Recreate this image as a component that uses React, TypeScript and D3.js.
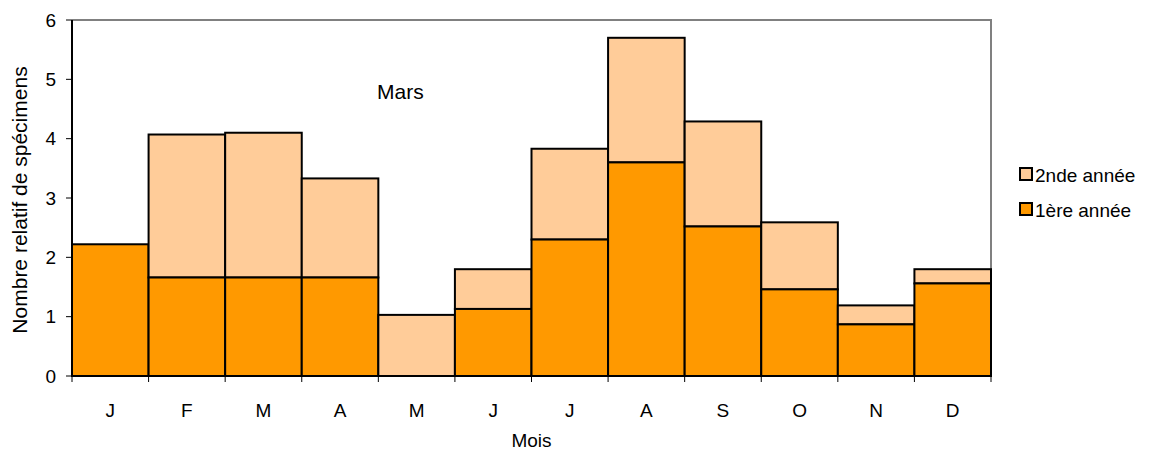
import React, { useRef, useEffect } from 'react';
import * as d3 from 'd3';

const months = ['J', 'F', 'M', 'A', 'M', 'J', 'J', 'A', 'S', 'O', 'N', 'D'];
const firstYear = [2.22, 1.66, 1.66, 1.66, 0, 1.13, 2.3, 3.6, 2.52, 1.46, 0.87, 1.56];
const secondYear = [0, 2.41, 2.44, 1.67, 1.03, 0.67, 1.53, 2.1, 1.77, 1.13, 0.32, 0.24];
const yTicks = [0, 1, 2, 3, 4, 5, 6];

const width = 1155;
const height = 455;
const margin = { top: 20, right: 164, bottom: 79, left: 72 };

const App: React.FC = () => {
  const svgRef = useRef<SVGSVGElement>(null);

  useEffect(() => {
    if (!svgRef.current) return;
    const root = d3.select(svgRef.current);
    root.selectAll('*').remove();

    const font = 'Arial, "Liberation Sans", sans-serif';
    const innerW = width - margin.left - margin.right;
    const innerH = height - margin.top - margin.bottom;

    const x = d3.scaleBand<number>()
      .domain(d3.range(months.length))
      .range([0, innerW])
      .padding(0);
    const y = d3.scaleLinear().domain([0, 6]).range([innerH, 0]);

    const g = root.append('g').attr('transform', `translate(${margin.left},${margin.top})`);

    // plot frame (top/right grey)
    g.append('path')
      .attr('d', `M0,0H${innerW}V${innerH}`)
      .attr('fill', 'none')
      .attr('stroke', '#808080')
      .attr('stroke-width', 2);

    // stacked bars
    months.forEach((_, i) => {
      const x0 = x(i)!;
      const w = x.bandwidth();
      const a = firstYear[i];
      const b = secondYear[i];
      if (b > 0) {
        g.append('rect')
          .attr('x', x0).attr('y', y(a + b))
          .attr('width', w).attr('height', y(a) - y(a + b))
          .attr('fill', '#FFCC99').attr('stroke', '#000').attr('stroke-width', 2);
      }
      if (a > 0) {
        g.append('rect')
          .attr('x', x0).attr('y', y(a))
          .attr('width', w).attr('height', y(0) - y(a))
          .attr('fill', '#FF9900').attr('stroke', '#000').attr('stroke-width', 2);
      }
    });

    // y axis
    g.append('line').attr('x1', 0).attr('x2', 0).attr('y1', 0).attr('y2', innerH)
      .attr('stroke', '#000').attr('stroke-width', 2);
    yTicks.forEach(t => {
      g.append('line').attr('x1', -6).attr('x2', 0).attr('y1', y(t)).attr('y2', y(t))
        .attr('stroke', '#000').attr('stroke-width', 1);
      g.append('text').attr('x', -16).attr('y', y(t)).attr('dy', '0.35em')
        .attr('text-anchor', 'end').attr('font-family', font).attr('font-size', 19)
        .text(String(t));
    });

    // x axis
    g.append('line').attr('x1', 0).attr('x2', innerW).attr('y1', innerH).attr('y2', innerH)
      .attr('stroke', '#000').attr('stroke-width', 2);
    d3.range(months.length + 1).forEach(i => {
      const xx = i < months.length ? x(i)! : innerW;
      g.append('line').attr('x1', xx).attr('x2', xx).attr('y1', innerH).attr('y2', innerH + 6)
        .attr('stroke', '#000').attr('stroke-width', 1);
    });
    months.forEach((m, i) => {
      g.append('text').attr('x', x(i)! + x.bandwidth() / 2).attr('y', innerH + 41)
        .attr('text-anchor', 'middle').attr('font-family', font).attr('font-size', 19)
        .text(m);
    });

    // axis titles
    root.append('text').attr('x', margin.left + innerW / 2).attr('y', 447)
      .attr('text-anchor', 'middle').attr('font-family', font).attr('font-size', 19)
      .text('Mois');
    root.append('text')
      .attr('transform', `translate(27,${margin.top + innerH / 2 + 2}) rotate(-90)`)
      .attr('text-anchor', 'middle').attr('font-family', font).attr('font-size', 21)
      .text('Nombre relatif de spécimens');

    // annotation
    g.append('text').attr('x', 305).attr('y', 79)
      .attr('font-family', font).attr('font-size', 21).text('Mars');

    // legend
    const legend = [
      { label: '2nde année', color: '#FFCC99' },
      { label: '1ère année', color: '#FF9900' },
    ];
    legend.forEach((d, i) => {
      const ly = 175 + i * 35;
      root.append('rect').attr('x', 1020).attr('y', ly - 7).attr('width', 12).attr('height', 12)
        .attr('fill', d.color).attr('stroke', '#000').attr('stroke-width', 2);
      root.append('text').attr('x', 1035).attr('y', ly).attr('dy', '0.35em')
        .attr('font-family', font).attr('font-size', 19).text(d.label);
    });
  }, []);

  return (
    <svg ref={svgRef} width={width} height={height}
      style={{ position: 'absolute', left: 0, top: 0, background: '#fff' }} />
  );
};

export default App;
